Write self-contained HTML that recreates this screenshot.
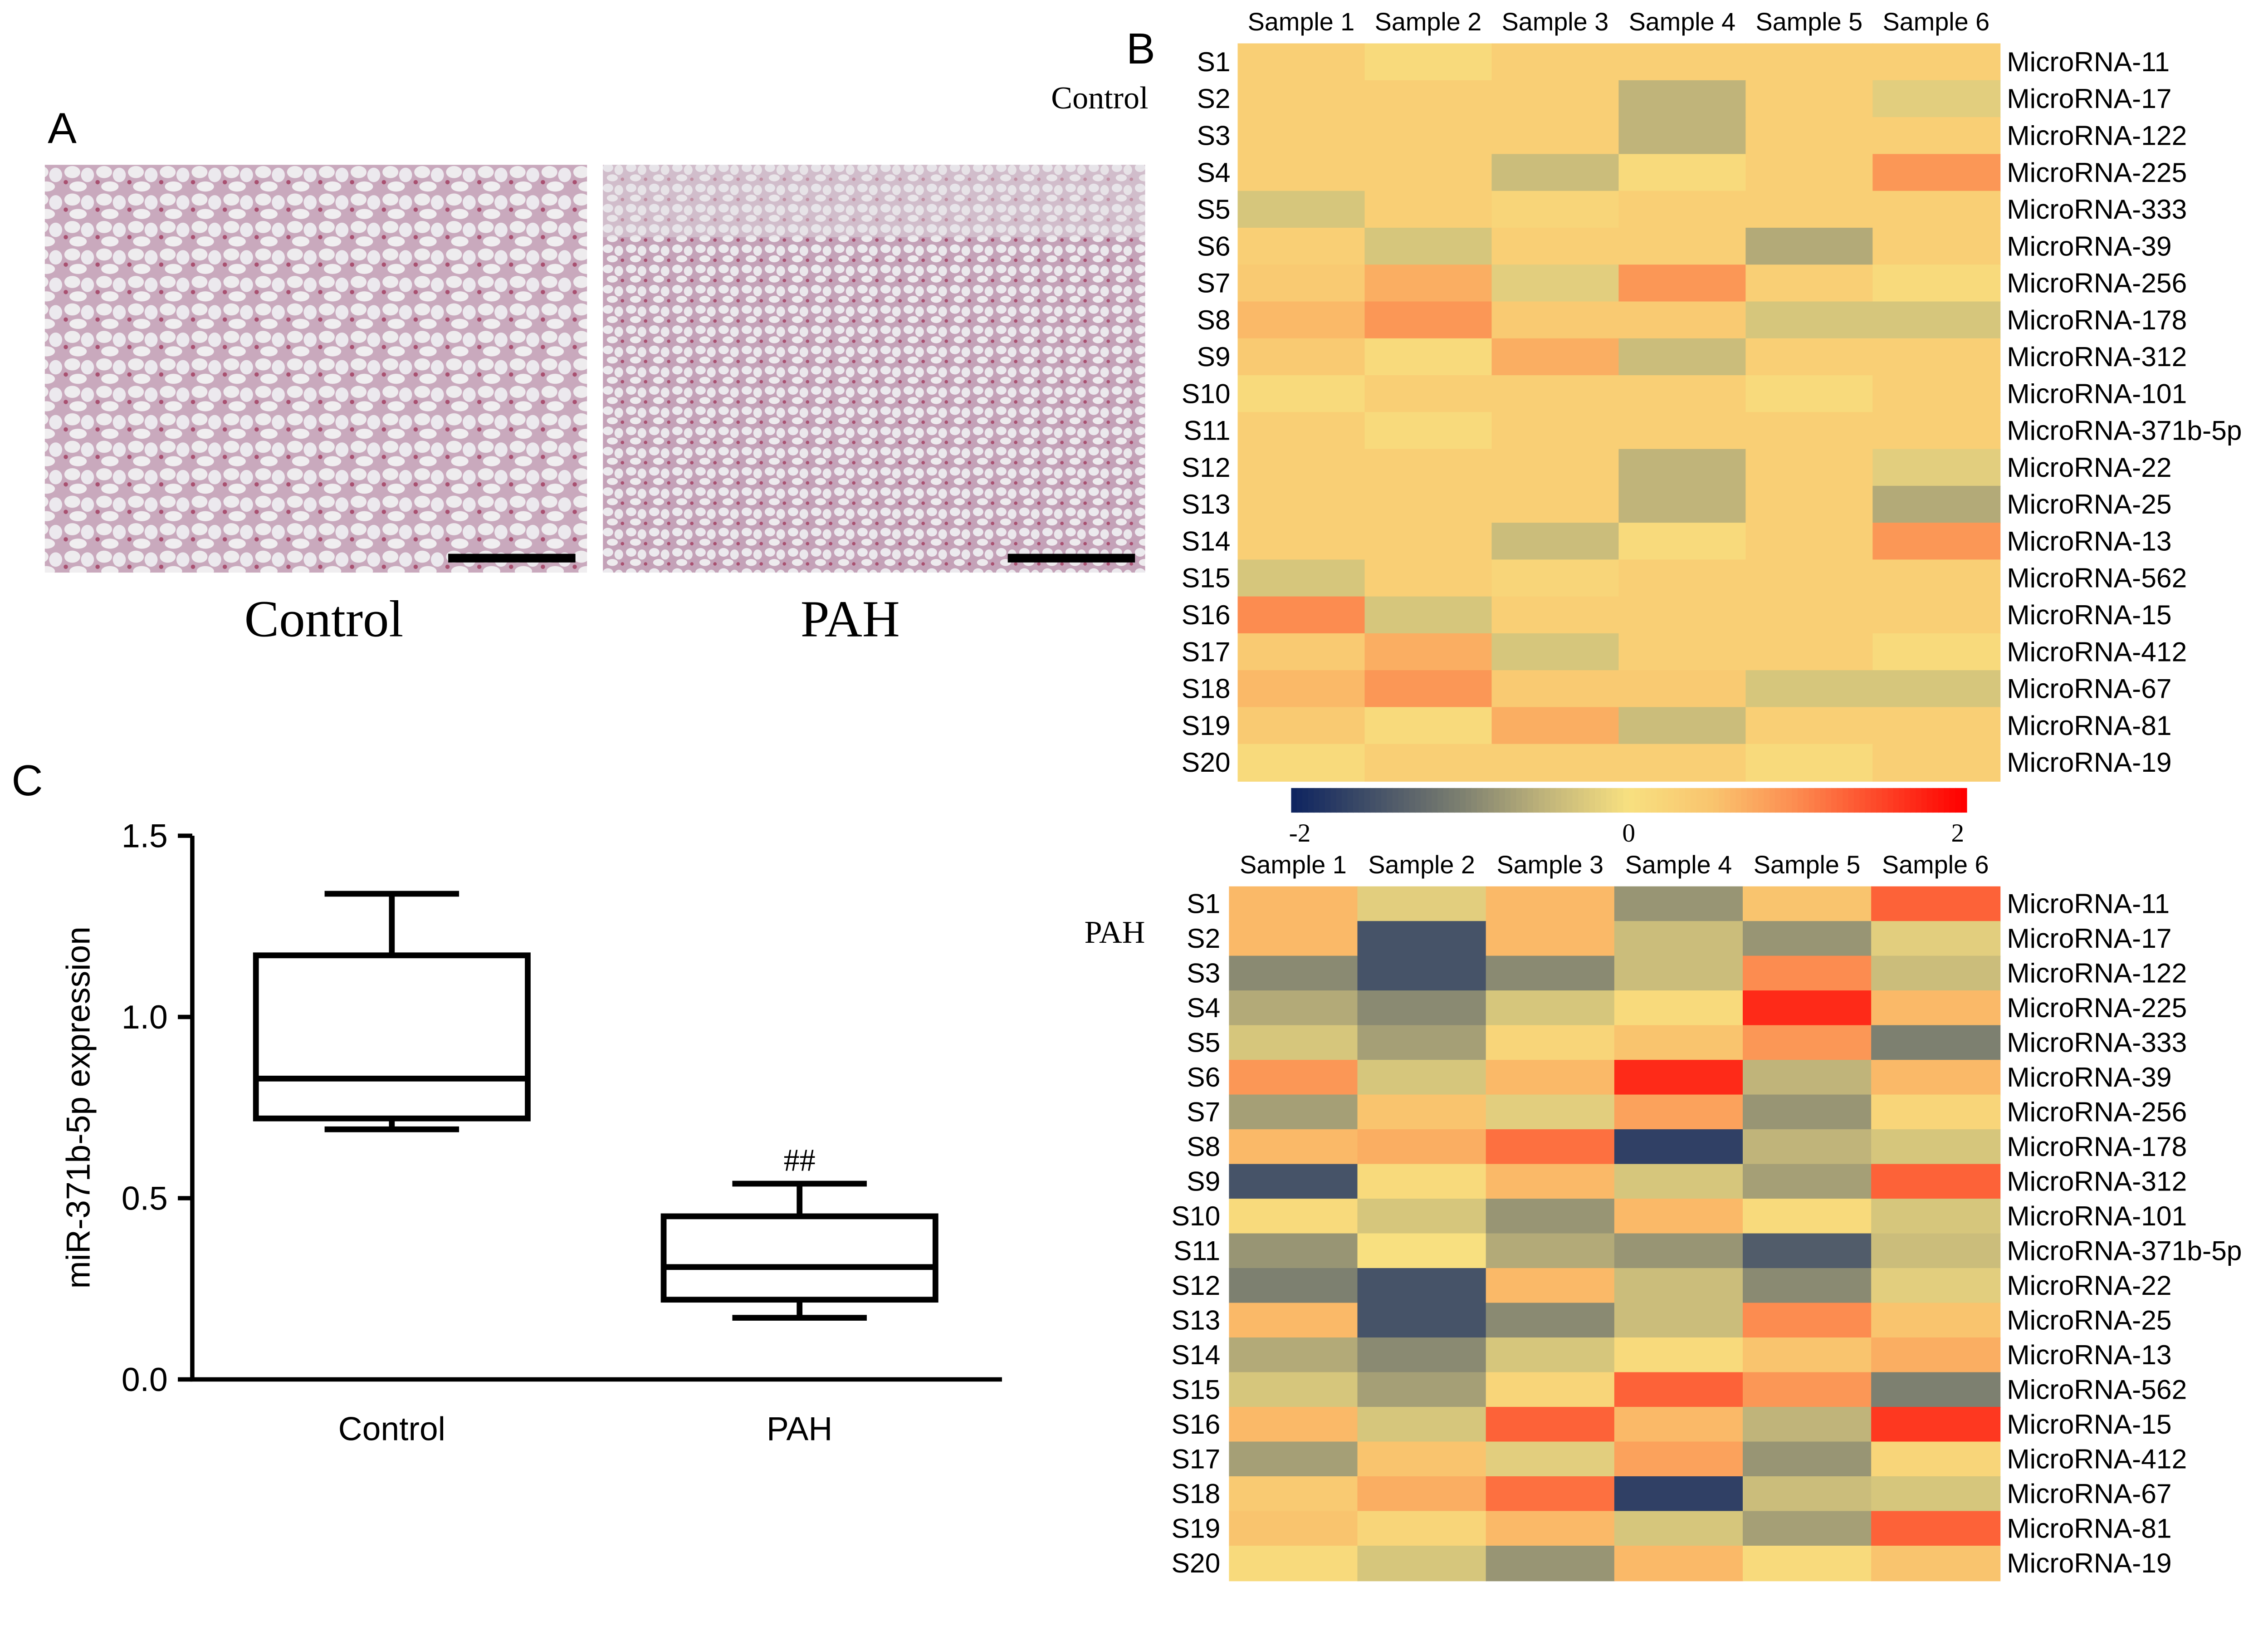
<!DOCTYPE html>
<html><head><meta charset="utf-8"><style>
html,body{margin:0;padding:0;background:#fff;}
svg{display:block;}
text{font-family:"Liberation Sans",sans-serif;}
.serif{font-family:"Liberation Serif",serif;}
</style></head><body>
<svg id="fig" width="5100" height="3595" viewBox="0 0 1600 1128" preserveAspectRatio="none" xmlns="http://www.w3.org/2000/svg">
<defs>
<pattern id="tissue" width="22" height="19" patternUnits="userSpaceOnUse">
<rect width="22" height="19" fill="#c9a9bd"/>
<ellipse cx="6" cy="5" rx="5.5" ry="4.2" fill="#eeecee"/>
<ellipse cx="16.5" cy="7" rx="4.5" ry="5" fill="#ecE9ee"/>
<ellipse cx="10" cy="15" rx="6" ry="3.5" fill="#f0eef0"/>
<circle cx="1.5" cy="12" r="1.5" fill="#a85070"/>
</pattern>
<pattern id="tissue2" width="16" height="14" patternUnits="userSpaceOnUse">
<rect width="16" height="14" fill="#c4a2b8"/>
<ellipse cx="4.5" cy="4" rx="3.6" ry="3" fill="#eceaee"/>
<ellipse cx="12" cy="5.5" rx="3" ry="3.5" fill="#ebe8ec"/>
<ellipse cx="7.5" cy="11" rx="3.8" ry="2.4" fill="#eeebee"/>
<circle cx="14.5" cy="12" r="1.2" fill="#a85070"/>
</pattern>
</defs>

<!-- Panel A -->
<text x="33" y="99" font-size="30">A</text>
<rect x="31" y="114" width="375" height="282" fill="url(#tissue)"/>
<rect x="310" y="383" width="88" height="6" fill="#000"/>
<rect x="417" y="114" width="375" height="282" fill="url(#tissue2)"/>
<rect x="417" y="114" width="375" height="50" fill="#e2dee2" opacity="0.45"/>
<rect x="697" y="383" width="88" height="6" fill="#000"/>
<text class="serif" x="224" y="440" font-size="36" text-anchor="middle">Control</text>
<text class="serif" x="588" y="440" font-size="36" text-anchor="middle">PAH</text>

<!-- Panel C -->
<text x="8" y="550" font-size="30">C</text>
<g id="boxchart"></g>

<!-- Panel B -->
<text x="779" y="44" font-size="30">B</text>
<text class="serif" x="727" y="75" font-size="22">Control</text>
<text class="serif" x="750" y="652" font-size="22">PAH</text>
<g id="hm1"></g>
<g id="hm2"></g>
<g id="cbar"></g>
</svg>
<script>
const samples=["Sample 1","Sample 2","Sample 3","Sample 4","Sample 5","Sample 6"];
const rowIds=["S1","S2","S3","S4","S5","S6","S7","S8","S9","S10","S11","S12","S13","S14","S15","S16","S17","S18","S19","S20"];
const mirnas=["MicroRNA-11","MicroRNA-17","MicroRNA-122","MicroRNA-225","MicroRNA-333","MicroRNA-39","MicroRNA-256","MicroRNA-178","MicroRNA-312","MicroRNA-101","MicroRNA-371b-5p","MicroRNA-22","MicroRNA-25","MicroRNA-13","MicroRNA-562","MicroRNA-15","MicroRNA-412","MicroRNA-67","MicroRNA-81","MicroRNA-19"];
const controlValues=[
[0.3,0.1,0.3,0.3,0.3,0.3],[0.3,0.3,0.3,-0.5,0.3,-0.2],[0.3,0.3,0.3,-0.5,0.3,0.3],[0.3,0.3,-0.4,0.1,0.3,0.9],
[-0.3,0.3,0.2,0.3,0.3,0.3],[0.3,-0.3,0.3,0.3,-0.6,0.3],[0.4,0.7,-0.2,0.9,0.3,0.1],[0.6,0.9,0.4,0.4,-0.3,-0.3],
[0.4,0.1,0.7,-0.4,0.3,0.3],[0.1,0.3,0.3,0.3,0.1,0.3],[0.3,0.1,0.3,0.3,0.3,0.3],[0.3,0.3,0.3,-0.5,0.3,-0.2],
[0.3,0.3,0.3,-0.5,0.3,-0.6],[0.3,0.3,-0.4,0.1,0.3,0.9],[-0.3,0.3,0.2,0.3,0.3,0.3],[1.0,-0.3,0.3,0.3,0.3,0.3],
[0.4,0.7,-0.3,0.3,0.3,0.1],[0.6,0.9,0.4,0.4,-0.3,-0.3],[0.4,0.1,0.7,-0.4,0.3,0.3],[0.1,0.3,0.3,0.3,0.1,0.3]];
const pahValues=[
[0.6,-0.2,0.6,-0.8,0.5,1.3],[0.6,-1.5,0.6,-0.4,-0.8,-0.2],[-0.9,-1.5,-0.9,-0.4,1.0,-0.4],[-0.6,-0.9,-0.3,0.1,1.7,0.6],
[-0.3,-0.7,0.2,0.5,0.9,-1.0],[0.9,-0.3,0.6,1.7,-0.5,0.6],[-0.7,0.5,-0.2,0.8,-0.8,0.2],[0.6,0.7,1.2,-1.7,-0.5,-0.3],
[-1.5,0.1,0.6,-0.3,-0.7,1.3],[0.1,-0.3,-0.8,0.6,0.1,-0.3],[-0.8,0.0,-0.6,-0.8,-1.4,-0.4],[-1.0,-1.5,0.6,-0.4,-0.9,-0.2],
[0.6,-1.5,-0.9,-0.4,1.0,0.5],[-0.6,-0.9,-0.3,0.1,0.5,0.7],[-0.3,-0.7,0.2,1.3,0.9,-1.0],[0.6,-0.3,1.3,0.6,-0.5,1.6],
[-0.7,0.5,-0.2,0.8,-0.8,0.2],[0.4,0.7,1.2,-1.7,-0.4,-0.3],[0.5,0.2,0.6,-0.3,-0.7,1.3],[0.1,-0.3,-0.8,0.6,0.1,0.5]];
const cbarTicks=[-2,0,2];
const boxGroups=["Control","PAH"];
const boxMin=[0.69,0.17];
const boxQ1=[0.72,0.22];
const boxMedian=[0.83,0.31];
const boxQ3=[1.17,0.45];
const boxMax=[1.34,0.54];
const yTicks=[0.0,0.5,1.0,1.5];
const yTickLabels=["0.0","0.5","1.0","1.5"];

const NS="http://www.w3.org/2000/svg";
function mk(tag,attrs,parent,txt){const e=document.createElementNS(NS,tag);for(const k in attrs)e.setAttribute(k,attrs[k]);if(txt!==undefined)e.textContent=txt;parent.appendChild(e);return e;}
const stops=[[-2,[15,37,96]],[-1,[125,128,112]],[-0.5,[192,180,122]],[0,[248,224,128]],[0.5,[249,196,110]],[1,[252,140,80]],[2,[255,0,0]]];
function color(v){v=Math.max(-2,Math.min(2,v));for(let i=0;i<stops.length-1;i++){const a=stops[i],b=stops[i+1];if(v<=b[0]){const t=(v-a[0])/(b[0]-a[0]);const c=a[1].map((x,j)=>Math.round(x+(b[1][j]-x)*t));return `rgb(${c})`;}}return "rgb(255,0,0)";}

function heatmap(g,vals,x0,x1,y0,y1,labY,rowLabX){
  const cw=(x1-x0)/samples.length, rh=(y1-y0)/rowIds.length;
  samples.forEach((s,j)=>{const t=mk('text',{x:x0+cw*(j+0.5),y:labY,'font-size':17.5,'text-anchor':'middle'},g,s);
    
    });
  vals.forEach((row,i)=>{
    row.forEach((v,j)=>{const r=mk('rect',{x:x0+cw*j,y:y0+rh*i,width:cw+0.6,height:rh+0.6,fill:color(v)},g);
      
      });
    const a=mk('text',{x:rowLabX,y:y0+rh*(i+0.5)+6.5,'font-size':19,'text-anchor':'end'},g,rowIds[i]);
    
    
    const b=mk('text',{x:x1+5,y:y0+rh*(i+0.5)+6.5,'font-size':19},g,mirnas[i]);
    
    
  });
}
heatmap(document.getElementById('hm1'),controlValues,856,1383,30,540,21,851);
heatmap(document.getElementById('hm2'),pahValues,850,1383,613,1093,604,844);

// colorbar
(function(){const g=document.getElementById('cbar');const x0=893,x1=1360,n=120;
  for(let k=0;k<n;k++){const v=-2+4*k/(n-1);const r=mk('rect',{x:x0+(x1-x0)*k/n,y:545,width:(x1-x0)/n+0.5,height:17,fill:color(v)},g);
    
    }
  cbarTicks.forEach(t=>{const x=x0+(t+2)/4*(x1-x0);const e=mk('text',{x:x+(t===-2?6:t===2?-6:0),y:582,'font-size':18,'text-anchor':'middle',class:'serif'},g,String(t));
    
    });
})();

// box plot
(function(){const g=document.getElementById('boxchart');
  const yx=133, y0=954, ppu=(954-578)/1.5, xEnd=693;
  const Y=v=>y0-v*ppu; const centers=[271,553]; const bw=188, cap=93;
  const ax=mk('path',{d:`M${yx} ${Y(1.5)}V${y0}H${xEnd}`,stroke:'#000','stroke-width':3,fill:'none'},g);
  
  
  yTicks.forEach((t,i)=>{mk('line',{x1:yx-10,x2:yx,y1:Y(t),y2:Y(t),stroke:'#000','stroke-width':3},g);
    const l=mk('text',{x:yx-17,y:Y(t)+8,'font-size':23,'text-anchor':'end'},g,yTickLabels[i]);
    
    });
  const yt=mk('text',{x:0,y:0,'font-size':23,'text-anchor':'middle',transform:`translate(62,${Y(0.75)}) rotate(-90)`},g,'miR-371b-5p expression');
  
  
  boxGroups.forEach((name,i)=>{const c=centers[i];
    mk('line',{x1:c,x2:c,y1:Y(boxMax[i]),y2:Y(boxQ3[i]),stroke:'#000','stroke-width':4},g);
    mk('line',{x1:c,x2:c,y1:Y(boxQ1[i]),y2:Y(boxMin[i]),stroke:'#000','stroke-width':4},g);
    mk('line',{x1:c-cap/2,x2:c+cap/2,y1:Y(boxMax[i]),y2:Y(boxMax[i]),stroke:'#000','stroke-width':4},g);
    mk('line',{x1:c-cap/2,x2:c+cap/2,y1:Y(boxMin[i]),y2:Y(boxMin[i]),stroke:'#000','stroke-width':4},g);
    const b=mk('rect',{x:c-bw/2,y:Y(boxQ3[i]),width:bw,height:Y(boxQ1[i])-Y(boxQ3[i]),fill:'none',stroke:'#000','stroke-width':4},g);
    
    
    mk('line',{x1:c-bw/2,x2:c+bw/2,y1:Y(boxMedian[i]),y2:Y(boxMedian[i]),stroke:'#000','stroke-width':4},g);
    const l=mk('text',{x:c,y:996,'font-size':23,'text-anchor':'middle'},g,name);
    
    
  });
  const s=mk('text',{x:centers[1],y:Y(boxMax[1])-9,'font-size':22,'text-anchor':'middle',class:'serif'},g,'##');
  
  
})();
</script>
</body></html>
